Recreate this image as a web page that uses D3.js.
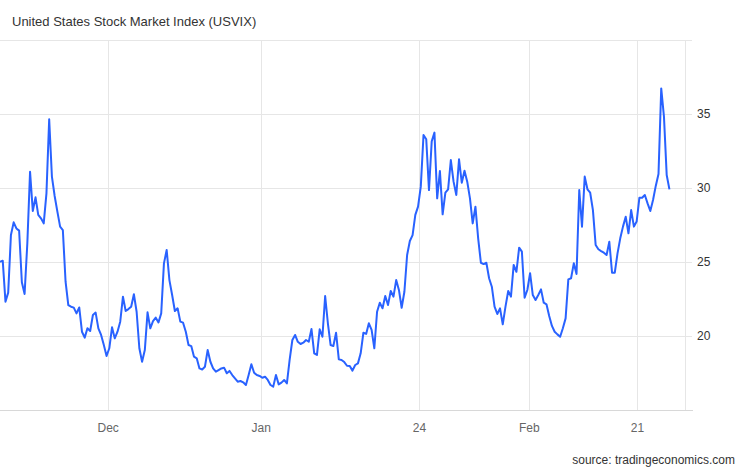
<!DOCTYPE html>
<html>
<head>
<meta charset="utf-8">
<script src="https://cdn.jsdelivr.net/npm/d3@7"></script>
<style>
body{margin:0;background:#fff;}
text{font-family:"Liberation Sans",Arial,sans-serif;}
</style>
</head>
<body>
<div id="chart"></div>
<script>
var w=746;
var h=468;

// USVIX readings, one per step
var values=[25.02,25.09,22.32,22.93,26.82,27.68,27.27,27.12,23.63,22.84,
26.26,31.10,28.45,29.37,28.18,27.95,27.61,29.64,34.64,30.77,
29.46,28.40,27.39,27.16,23.67,22.09,21.98,21.92,21.53,21.93,
20.29,19.89,20.52,20.34,21.42,21.58,20.52,20.07,19.39,18.65,
19.17,20.59,19.84,20.29,20.97,22.66,21.69,21.82,21.98,22.82,
21.64,19.17,18.26,19.05,21.60,20.52,21.01,21.24,20.92,21.53,
24.91,25.81,23.78,22.77,21.69,21.87,20.97,
20.90,20.29,19.39,19.32,18.60,18.49,17.81,17.74,17.92,19.05,
18.26,17.81,17.59,17.70,17.81,17.86,17.48,17.64,17.36,17.14,
16.91,16.96,16.87,16.69,17.36,18.09,17.52,17.36,17.30,17.18,
17.25,17.03,16.69,16.58,17.36,16.73,16.85,17.03,16.80,18.38,
19.73,20.07,19.61,19.46,19.55,19.73,19.61,20.47,18.83,18.72,
20.45,19.95,22.70,
20.86,19.39,19.32,20.22,18.42,18.38,18.24,17.99,17.97,17.66,
18.04,18.15,18.83,20.22,20.14,20.86,20.41,19.17,21.64,22.25,
21.87,22.70,22.09,23.04,22.66,23.78,23.11,21.91,22.99,25.47,
26.42,26.82,28.18,28.74,30.09,33.58,33.29,29.86,33.15,33.74,
29.30,31.15,28.22,29.68,29.91,31.89,30.43,29.53,31.94,30.36,
31.17,30.43,29.30,27.61,28.74,26.60,24.95,24.86,24.95,23.90,
23.33,21.98,21.49,21.87,
20.79,21.98,23.04,22.66,24.80,24.34,25.97,25.70,22.59,23.11,
24.24,22.77,22.43,22.77,23.15,22.25,22.14,21.35,20.68,20.29,
20.11,19.95,20.52,21.19,23.83,23.90,24.91,24.19,29.86,27.39,
30.77,29.91,29.68,28.51,26.15,25.86,25.74,25.63,25.47,26.37,
24.28,24.28,25.58,26.60,27.39,28.06,26.94,28.51,27.39,27.73,
29.34,29.34,29.53,28.96,28.45,29.19,30.14,30.95,36.73,34.82,
30.88,29.91];

var xTickPos=[39.6,95.6,153.5,193.7,233.3];
var xTickLabels=["Dec","Jan","24","Feb","21"];
var yTicks=[20,25,30,35];
var yGrid=[20,25,30,35,40];

var title="United States Stock Market Index (USVIX)";
var source="source: tradingeconomics.com";

var pLeft=0, pRight=685, pTop=40, pBottom=410;

var svg=d3.select("#chart").append("svg")
          .attr("width",w)
          .attr("height",h);

var x=d3.scaleLinear()
        .domain([0,250.7])
        .range([pLeft,pRight]);

var y=d3.scaleLinear()
        .domain([15,40])
        .range([pBottom,pTop]);

svg.append("text")
   .attr("x",12)
   .attr("y",26)
   .attr("font-size",13)
   .attr("fill","#333")
   .text(title);

// grid
svg.append("g")
   .selectAll("line")
   .data(yGrid)
   .enter().append("line")
     .attr("x1",pLeft)
     .attr("x2",pRight+7)
     .attr("y1",function(d){return Math.round(y(d))+0.5;})
     .attr("y2",function(d){return Math.round(y(d))+0.5;})
     .attr("stroke","#e6e6e6");

svg.append("g")
   .selectAll("line")
   .data(xTickPos)
   .enter().append("line")
     .attr("x1",function(d){return Math.round(x(d))+0.5;})
     .attr("x2",function(d){return Math.round(x(d))+0.5;})
     .attr("y1",pTop)
     .attr("y2",pBottom)
     .attr("stroke","#e6e6e6");

svg.append("line")
   .attr("x1",pRight+0.5).attr("x2",pRight+0.5)
   .attr("y1",pTop).attr("y2",pBottom)
   .attr("stroke","#e6e6e6");

svg.append("line")
   .attr("x1",pLeft).attr("x2",pRight+8)
   .attr("y1",pBottom+0.5).attr("y2",pBottom+0.5)
   .attr("stroke","#d8d8d8");

// axes labels
var yAxis=d3.axisRight(y)
            .tickValues(yTicks)
            .tickSize(0)
            .tickPadding(12);

var ya=svg.append("g")
          .attr("transform","translate("+pRight+",0)")
          .call(yAxis);
ya.select(".domain").remove();
ya.selectAll("text")
  .attr("font-family","Liberation Sans, Arial, sans-serif")
  .attr("font-size",12)
  .attr("fill","#333");

svg.append("g")
   .selectAll("text")
   .data(xTickPos)
   .enter().append("text")
     .attr("x",function(d){return x(d);})
     .attr("y",432)
     .attr("text-anchor","middle")
     .attr("font-size",12)
     .attr("fill","#666")
     .text(function(d,i){return xTickLabels[i];});

var line=d3.line()
           .x(function(d,i){return x(i);})
           .y(function(d){return y(d);});

svg.append("path")
   .datum(values)
   .attr("d",line)
   .attr("fill","none")
   .attr("stroke","#2962ff")
   .attr("stroke-width",2)
   .attr("stroke-linejoin","round");

svg.append("text")
   .attr("x",735)
   .attr("y",464)
   .attr("text-anchor","end")
   .attr("font-size",12)
   .attr("fill","#333")
   .text(source);
</script>
</body>
</html>
